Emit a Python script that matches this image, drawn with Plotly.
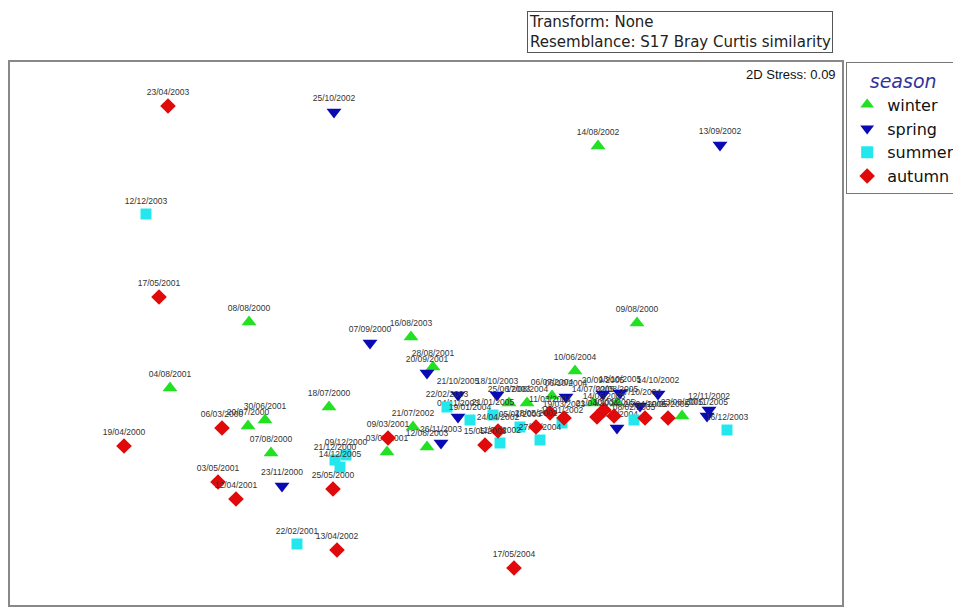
import plotly.graph_objects as go

# MDS ordination coordinates (arbitrary units) and sample labels per season
winter_x = [1.72, -1.77, 2.11, -2.56, -0.97, -1.61, -1.78, -1.55, -0.15, 1.49,
            -0.39, 0.01, -0.13, 0.83, 1.01, 1.26, 1.67, 1.91, 2.56, 0.07]
winter_y = [1.87, 0.11, 0.10, -0.55, -0.74, -0.87, -0.93, -1.20, -0.04, -0.38,
            -1.19, -1.14, -0.94, -0.70, -0.70, -0.63, -0.70, -0.70, -0.83, -0.34]
winter_lab = ["14/08/2002", "08/08/2000", "09/08/2000", "04/08/2001", "18/07/2000",
              "30/06/2001", "20/07/2000", "07/08/2000", "16/08/2003", "10/06/2004",
              "03/07/2001", "12/08/2003", "21/07/2002", "25/06/2003", "17/08/2004",
              "06/07/2004", "14/07/2005", "02/08/2005", "23/08/2005", "28/08/2001"]

spring_x = [-0.92, 2.94, -0.56, 0.01, -1.44, 0.32, 0.71, 0.32, 0.15, 1.40,
            1.77, 1.94, 2.32, 2.14, 1.91, 2.83, 2.81]
spring_y = [2.21, 1.88, -0.10, -0.40, -1.53, -0.62, -0.62, -0.84, -1.10, -0.64,
            -0.61, -0.60, -0.61, -0.73, -0.95, -0.77, -0.83]
spring_lab = ["25/10/2002", "13/09/2002", "07/09/2000", "20/09/2001", "23/11/2000",
              "21/10/2005", "18/10/2003", "04/11/2003", "26/11/2003", "06/10/2004",
              "20/09/2005", "13/10/2005", "14/10/2002", "27/10/2004", "16/11/2004",
              "12/11/2002", "30/11/2005"]

summer_x = [-2.80, -1.29, -0.91, -0.86, -0.80, 3.01, 0.21, 0.44, 0.67, 0.74,
            0.94, 1.14, 1.36, 2.08]
summer_y = [1.19, -2.11, -1.27, -1.34, -1.22, -0.97, -0.74, -0.87, -0.82, -1.10,
            -0.94, -1.07, -0.90, -0.87]
summer_lab = ["12/12/2003", "22/02/2001", "21/12/2000", "14/12/2005", "09/12/2000",
              "16/12/2003", "22/02/2003", "19/01/2004", "21/01/2005", "11/02/2002",
              "05/01/2003", "27/02/2004", "15/01/2002", "08/02/2005"]

autumn_x = [-2.58, -2.67, -3.02, -2.04, -2.08, -1.90, -0.93, -0.89, 0.88, -0.38,
            0.59, 0.72, 1.10, 1.24, 1.38, 1.71, 1.78, 1.88, 2.19, 2.42]
autumn_y = [2.27, 0.36, -1.13, -0.95, -1.49, -1.66, -1.56, -2.17, -2.35, -1.05,
            -1.12, -0.98, -0.94, -0.80, -0.85, -0.84, -0.77, -0.83, -0.85, -0.85]
autumn_lab = ["23/04/2003", "17/05/2001", "19/04/2000", "06/03/2000", "03/05/2001",
              "12/04/2001", "25/05/2000", "13/04/2002", "17/05/2004", "09/03/2001",
              "15/05/2003", "24/04/2002", "28/05/2002", "11/03/2004", "19/03/2003",
              "21/04/2004", "14/05/2003", "30/03/2005", "26/04/2005", "10/05/2005"]

seasons = ["winter", "spring", "summer", "autumn"]
colors = ["#22E022", "#0A0AB4", "#22E8EE", "#E00A0A"]
symbols = ["triangle-up", "triangle-down", "square", "diamond"]
sizes = [13, 13, 11, 12]
xs = [winter_x, spring_x, summer_x, autumn_x]
ys = [winter_y, spring_y, summer_y, autumn_y]
labs = [winter_lab, spring_lab, summer_lab, autumn_lab]

FONT = "Liberation Sans, Arial, sans-serif"
LFONT = "DejaVu Sans, Liberation Sans, sans-serif"

fig = go.Figure()
for s, c, sym, sz, x, y, lab in zip(seasons, colors, symbols, sizes, xs, ys, labs):
    fig.add_trace(go.Scatter(
        x=x, y=y, name=s, text=lab, mode="markers+text",
        textposition="top center",
        textfont=dict(family=FONT, size=8.5, color="#333333"),
        marker=dict(symbol=sym, size=sz, color=c, line=dict(width=0)),
    ))

fig.update_layout(
    width=953, height=608,
    margin=dict(l=10, r=111, t=62, b=3, autoexpand=False),
    paper_bgcolor="white", plot_bgcolor="white",
    font=dict(family=FONT, color="#111111"),
    showlegend=True,
    legend=dict(
        x=1.005, xanchor="left", y=1.0, yanchor="top",
        bordercolor="#777777", borderwidth=1,
        font=dict(family=LFONT, size=16, color="#111111"),
        title=dict(text="season", side="top center",
                   font=dict(family=LFONT, size=19, color="#333399", style="italic")),
        itemsizing="constant", itemwidth=30, tracegroupgap=0,
    ),
    xaxis=dict(range=[-4.16, 4.16], showline=True, mirror=True, linecolor="#888888",
               linewidth=2, showgrid=False, zeroline=False, showticklabels=False,
               ticks=""),
    yaxis=dict(range=[-2.72, 2.71], showline=True, mirror=True, linecolor="#888888",
               linewidth=2, showgrid=False, zeroline=False, showticklabels=False,
               ticks=""),
    annotations=[
        dict(text="2D Stress: 0.09", xref="paper", yref="paper", x=0.995, y=0.995,
             xanchor="right", yanchor="top", showarrow=False,
             font=dict(family=FONT, size=13, color="#111111")),
        dict(text="Transform: None<br>Resemblance: S17 Bray Curtis similarity",
             xref="paper", yref="paper", x=0.621, y=1.094, xanchor="left",
             yanchor="top", showarrow=False, align="left",
             bordercolor="#555555", borderwidth=1, borderpad=1,
             font=dict(family=LFONT, size=15, color="#222222")),
    ],
)

fig.write_html("out.html", config={"displayModeBar": False},
               post_script="document.body.style.margin='0';document.body.style.overflow='hidden';")
